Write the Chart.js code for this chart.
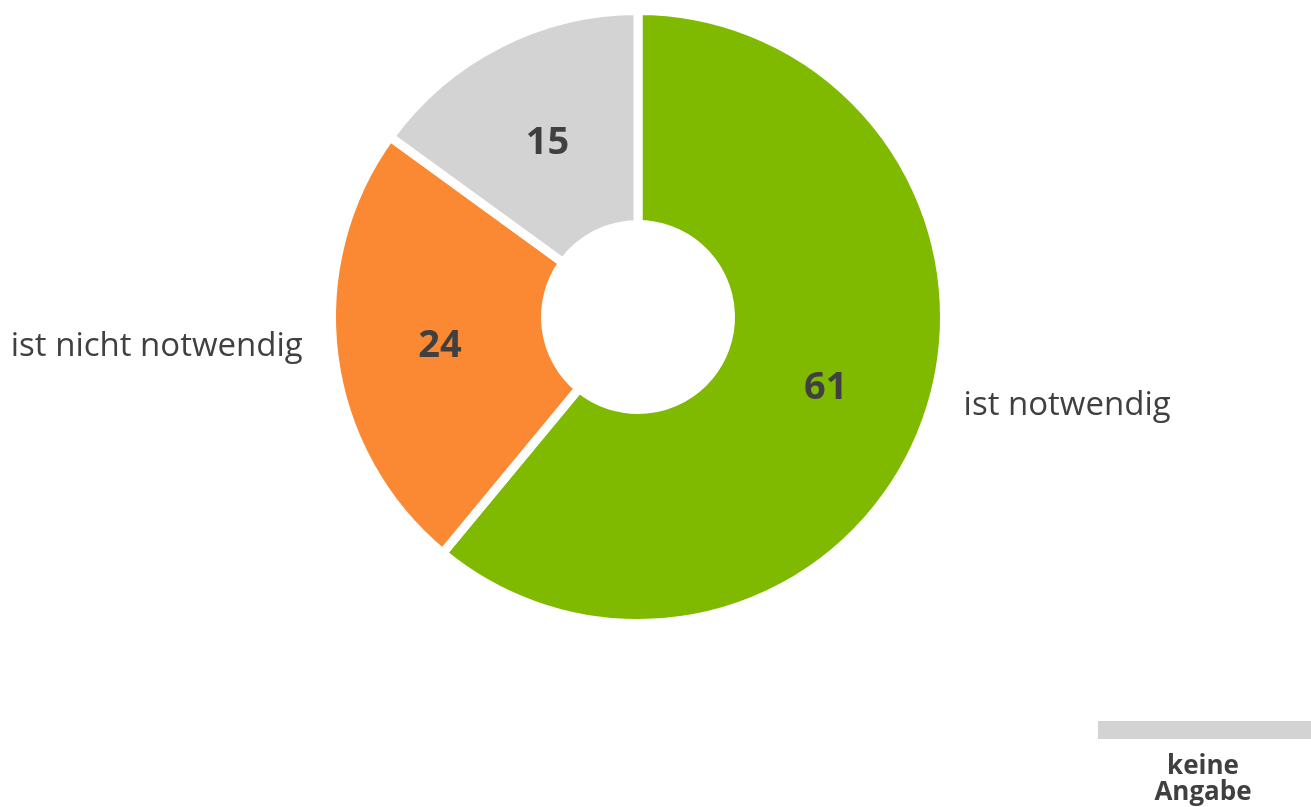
<!DOCTYPE html>
<html>
<head>
<meta charset="utf-8">
<script src="https://cdn.jsdelivr.net/npm/chart.js@4"></script>
<style>
  html, body { margin: 0; padding: 0; background: #ffffff; }
  #wrap { width: 1311px; height: 807px; position: relative; }
</style>
</head>
<body>
<div id="wrap"><canvas id="c" width="1311" height="807"></canvas></div>
<script>
// ---- data ----
const categories = ['ist notwendig', 'ist nicht notwendig', 'keine Angabe'];
const values = [61, 24, 15];
const colors = ['#7fba00', '#fb8832', '#d3d3d3'];
const outsideLabelIdx = [0, 1];      // categories shown beside the ring
const legendIdx = [2];               // categories shown in the legend box

const TEXT = '#404040';
const FONT = '"Open Sans", "DejaVu Sans", sans-serif';
const GAP = 9;

const labelPlugin = {
  id: 'labels',
  afterDatasetsDraw(chart) {
    const ctx = chart.ctx;
    const meta = chart.getDatasetMeta(0);
    const half = GAP / 2;
    ctx.save();
    ctx.fillStyle = TEXT;
    meta.data.forEach((arc, i) => {
      const p = arc.getProps(['x', 'y', 'startAngle', 'endAngle', 'innerRadius', 'outerRadius'], true);
      const mid = (p.startAngle + p.endAngle) / 2;
      const rIn = p.innerRadius + half;
      const rOut = p.outerRadius - half;
      const r = (rIn + rOut) / 2;
      ctx.font = 'bold 38px ' + FONT;
      ctx.textAlign = 'center';
      ctx.textBaseline = 'middle';
      ctx.fillText(String(values[i]), p.x + Math.cos(mid) * r, p.y + Math.sin(mid) * r + 4);

      if (outsideLabelIdx.includes(i)) {
        const ro = rOut + 43;
        const nudge = i === 0 ? [1, -28] : [7, -14];
        const lx = p.x + Math.cos(mid) * ro + nudge[0];
        const ly = p.y + Math.sin(mid) * ro + nudge[1];
        ctx.font = '33px ' + FONT;
        ctx.textAlign = Math.cos(mid) >= 0 ? 'left' : 'right';
        ctx.textBaseline = 'middle';
        ctx.fillText(categories[i], lx, ly);
      }
    });
    ctx.restore();
  },
  afterDraw(chart) {
    const ctx = chart.ctx;
    ctx.save();
    legendIdx.forEach((i) => {
      ctx.fillStyle = colors[i];
      ctx.fillRect(1098, 721, 240, 18);
      ctx.fillStyle = TEXT;
      ctx.font = 'bold 26px ' + FONT;
      ctx.textAlign = 'center';
      ctx.textBaseline = 'alphabetic';
      const words = categories[i].split(' ');
      words.forEach((w, k) => ctx.fillText(w, 1203, 774 + k * 26));
    });
    ctx.restore();
  }
};

new Chart(document.getElementById('c'), {
  type: 'doughnut',
  data: {
    labels: categories,
    datasets: [{
      data: values,
      backgroundColor: colors,
      borderColor: '#ffffff',
      borderWidth: GAP,
      borderAlign: 'center',
      borderJoinStyle: 'miter',
      hoverBorderWidth: GAP,
      hoverOffset: 0
    }]
  },
  options: {
    responsive: false,
    animation: false,
    cutout: '30.18%',
    rotation: 0,
    layout: { padding: { top: 6, bottom: 179, left: 0, right: 35 } },
    plugins: {
      legend: { display: false },
      tooltip: { enabled: false }
    },
    events: []
  },
  plugins: [labelPlugin]
});
</script>
</body>
</html>
